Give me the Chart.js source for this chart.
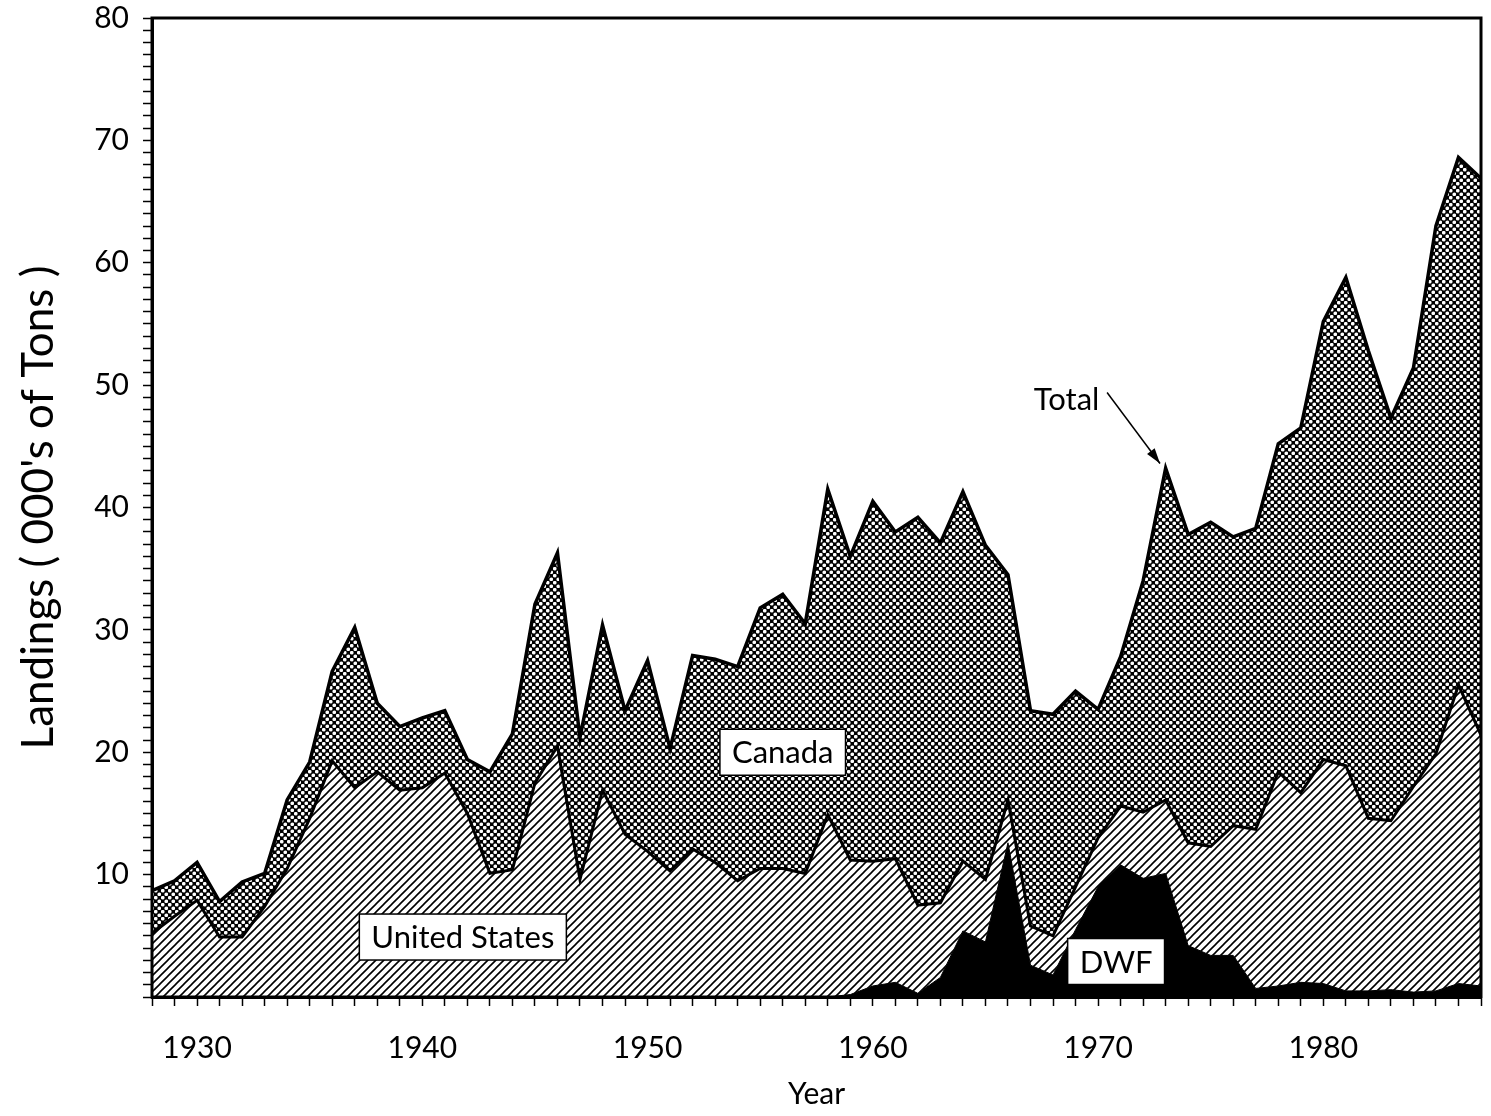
<!DOCTYPE html>
<html>
<head>
<meta charset="utf-8">
<script src="https://cdn.jsdelivr.net/npm/chart.js@4.4.1/dist/chart.umd.min.js"></script>
<style>
  html, body { margin: 0; padding: 0; background: #fff; }
  #wrap { width: 1491px; height: 1116px; position: relative; }
</style>
</head>
<body>
<div id="wrap"><canvas id="chart" width="1491" height="1116"></canvas></div>
<script>
// landings, thousands of tons
const years = [];
for (let y = 1928; y <= 1987; y++) years.push(y);

const dwf = [
  0, 0, 0, 0, 0, 0, 0, 0, 0, 0,          // 1928-37
  0, 0, 0, 0, 0, 0, 0, 0, 0, 0,          // 1938-47
  0, 0, 0, 0, 0, 0, 0, 0, 0, 0,          // 1948-57
  0, 0.2, 0.9, 1.2, 0.3, 1.6, 5.4, 4.5, 12.6, 2.6,   // 1958-67
  1.8, 5.5, 9.0, 10.8, 9.7, 10.1, 4.2, 3.4, 3.4, 0.7, // 1968-77
  0.9, 1.2, 1.1, 0.5, 0.5, 0.6, 0.4, 0.5, 1.1, 0.9    // 1978-87
];

const unitedStates = [
  5.2, 6.6, 7.9, 4.9, 4.9, 7.4, 10.5, 14.6, 19.3, 17.1,
  18.4, 16.9, 17.1, 18.3, 15.0, 10.1, 10.4, 17.5, 20.5, 9.6,
  16.9, 13.3, 11.9, 10.3, 12.1, 11.0, 9.5, 10.5, 10.5, 10.1,
  14.9, 11.0, 10.2, 10.1, 7.2, 6.1, 5.7, 5.1, 3.5, 3.2,
  3.2, 3.5, 4.0, 4.8, 5.4, 6.0, 8.4, 8.9, 10.6, 13.0,
  17.5, 15.5, 18.3, 18.4, 14.1, 13.8, 16.8, 19.4, 24.4, 20.5
];

const canada = [
  3.5, 2.9, 3.1, 2.9, 4.5, 2.7, 5.6, 4.6, 7.3, 13.1,
  5.6, 5.2, 5.7, 5.1, 4.4, 8.3, 11.1, 14.6, 15.8, 11.6,
  13.5, 10.1, 15.6, 10.0, 15.8, 16.6, 17.5, 21.3, 22.4, 20.4,
  26.6, 24.8, 29.4, 26.7, 31.7, 29.4, 30.2, 27.3, 18.4, 17.6,
  18.1, 16.0, 10.5, 12.2, 18.9, 27.1, 25.2, 26.5, 23.6, 24.6,
  26.8, 29.8, 35.8, 39.9, 38.2, 32.9, 34.2, 43.1, 43.1, 45.5
];

const yTickLabels = [10, 20, 30, 40, 50, 60, 70, 80];
const xTickLabels = [1930, 1940, 1950, 1960, 1970, 1980];

const FONT = 'Lato, "DejaVu Sans", sans-serif';

function hatchPattern() {
  const c = document.createElement('canvas');
  c.width = 8; c.height = 8;
  const g = c.getContext('2d');
  g.fillStyle = '#fff';
  g.fillRect(0, 0, 8, 8);
  g.strokeStyle = '#000';
  g.lineWidth = 1.6;
  g.beginPath();
  g.moveTo(-1, 9); g.lineTo(9, -1);
  g.moveTo(-1, 1); g.lineTo(1, -1);
  g.moveTo(7, 9); g.lineTo(9, 7);
  g.stroke();
  return g.createPattern(c, 'repeat');
}

function dotPattern() {
  const c = document.createElement('canvas');
  c.width = 7; c.height = 7;
  const g = c.getContext('2d');
  g.fillStyle = '#000';
  g.fillRect(0, 0, 7, 7);
  g.fillStyle = '#fff';
  g.beginPath();
  g.arc(1.75, 1.75, 1.85, 0, Math.PI * 2);
  g.fill();
  g.beginPath();
  g.arc(5.25, 5.25, 1.85, 0, Math.PI * 2);
  g.fill();
  return g.createPattern(c, 'repeat');
}

// labels boxes, arrow and frame
const annotations = {
  id: 'annotations',
  afterDatasetsDraw(chart) {
    const ctx = chart.ctx;
    const xs = chart.scales.x, ys = chart.scales.y;
    const area = chart.chartArea;

    ctx.save();
    ctx.strokeStyle = '#000';
    ctx.lineWidth = 3;
    ctx.strokeRect(area.left, area.top, area.right - area.left, area.bottom - area.top);

    ctx.font = '31px ' + FONT;
    ctx.textAlign = 'center';
    ctx.textBaseline = 'middle';
    const boxes = [
      { text: 'United States', x: 1941.8, y: 4.9 },
      { text: 'Canada', x: 1956.0, y: 20.0 },
      { text: 'DWF', x: 1970.8, y: 2.9 }
    ];
    boxes.forEach(b => {
      const px = xs.getPixelForValue(b.x), py = ys.getPixelForValue(b.y);
      const w = ctx.measureText(b.text).width + 24, h = 46;
      ctx.fillStyle = '#fff';
      ctx.fillRect(px - w / 2, py - h / 2, w, h);
      ctx.lineWidth = 1.5;
      ctx.strokeRect(px - w / 2, py - h / 2, w, h);
      ctx.fillStyle = '#000';
      ctx.fillText(b.text, px, py + 1);
    });

    // Total label + arrow
    ctx.fillStyle = '#000';
    ctx.fillText('Total', xs.getPixelForValue(1968.6), ys.getPixelForValue(48.8));
    const ax0 = xs.getPixelForValue(1970.4), ay0 = ys.getPixelForValue(49.4);
    const ax1 = xs.getPixelForValue(1972.75), ay1 = ys.getPixelForValue(43.6);
    ctx.lineWidth = 1.5;
    ctx.beginPath();
    ctx.moveTo(ax0, ay0);
    ctx.lineTo(ax1, ay1);
    ctx.stroke();
    const ang = Math.atan2(ay1 - ay0, ax1 - ax0);
    ctx.beginPath();
    ctx.moveTo(ax1, ay1);
    ctx.lineTo(ax1 - 16 * Math.cos(ang - 0.3), ay1 - 16 * Math.sin(ang - 0.3));
    ctx.lineTo(ax1 - 16 * Math.cos(ang + 0.3), ay1 - 16 * Math.sin(ang + 0.3));
    ctx.closePath();
    ctx.fill();
    ctx.restore();
  }
};

const ctx = document.getElementById('chart').getContext('2d');
new Chart(ctx, {
  type: 'line',
  data: {
    labels: years,
    datasets: [
      {
        label: 'DWF',
        data: years.map((y, i) => ({ x: y, y: dwf[i] })),
        backgroundColor: '#000',
        borderColor: '#000',
        borderWidth: 1,
        fill: 'origin'
      },
      {
        label: 'United States',
        data: years.map((y, i) => ({ x: y, y: unitedStates[i] })),
        backgroundColor: hatchPattern(),
        borderColor: '#000',
        borderWidth: 3,
        fill: '-1'
      },
      {
        label: 'Canada',
        data: years.map((y, i) => ({ x: y, y: canada[i] })),
        backgroundColor: dotPattern(),
        borderColor: '#000',
        borderWidth: 3.5,
        fill: '-1'
      }
    ]
  },
  plugins: [annotations],
  options: {
    responsive: false,
    animation: false,
    layout: { padding: { left: 0, right: 10, top: 18, bottom: 0 } },
    elements: { point: { radius: 0 }, line: { tension: 0, borderJoinStyle: 'miter' } },
    plugins: { legend: { display: false }, tooltip: { enabled: false } },
    scales: {
      x: {
        type: 'linear',
        min: 1928,
        max: 1987,
        afterFit: s => { s.height = 119; s.paddingLeft = 0; s.paddingRight = 0; },
        afterBuildTicks: s => { s.ticks = years.map(v => ({ value: v })); },
        ticks: {
          autoSkip: false,
          maxRotation: 0,
          padding: 24,
          color: '#000',
          font: { family: FONT, size: 30 },
          callback: v => xTickLabels.includes(v) ? String(v) : ''
        },
        grid: { drawOnChartArea: false, tickLength: 9, tickWidth: 1.5, tickColor: '#000' },
        border: { display: true, color: '#000', width: 3 },
        title: { display: true, text: 'Year', color: '#000', font: { family: FONT, size: 30 }, padding: { top: 4 } }
      },
      y: {
        stacked: true,
        min: 0,
        max: 80,
        afterFit: s => { s.width = 152; s.paddingTop = 0; s.paddingBottom = 0; },
        ticks: {
          stepSize: 1,
          autoSkip: false,
          padding: 14,
          color: '#000',
          font: { family: FONT, size: 30 },
          callback: v => yTickLabels.includes(v) ? String(v) : ''
        },
        grid: { drawOnChartArea: false, tickLength: 9, tickWidth: 1.5, tickColor: '#000' },
        border: { display: true, color: '#000', width: 3 },
        title: { display: true, text: "Landings ( 000's of Tons )", color: '#000', font: { family: FONT, size: 44 }, padding: { top: 12, bottom: 4 } }
      }
    }
  }
});
</script>
</body>
</html>
